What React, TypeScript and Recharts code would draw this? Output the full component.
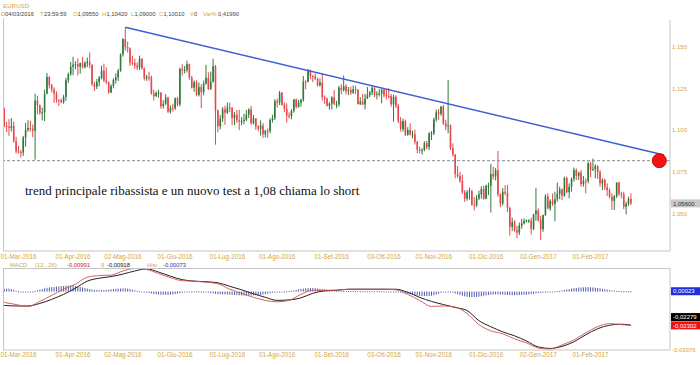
import React from "react";
import { ComposedChart, Bar, Line, XAxis, YAxis, ReferenceLine, ReferenceDot } from "recharts";

// daily EURUSD candles [open, high, low, close], one list per month
const feb16 = [
  [1.1130, 1.1135, 1.1016, 1.1025], [1.1025, 1.1050, 1.0988, 1.1019], [1.1019, 1.1065, 1.0965, 1.1013],
  [1.1013, 1.1070, 1.0991, 1.1024], [1.1024, 1.1050, 1.0925, 1.0932], [1.0932, 1.0960, 1.0859, 1.0872],
];
const mar16 = [
  [1.0872, 1.0905, 1.0859, 1.0868], [1.0868, 1.0880, 1.0835, 1.0865], [1.0865, 1.0965, 1.0845, 1.0955],
  [1.0955, 1.1042, 1.0900, 1.1001], [1.1001, 1.1059, 1.0989, 1.1012], [1.1012, 1.1056, 1.0990, 1.1008],
  [1.1008, 1.1033, 1.0957, 1.0996], [1.0996, 1.1218, 1.0822, 1.1177], [1.1177, 1.1205, 1.1094, 1.1150],
  [1.1150, 1.1152, 1.1090, 1.1104], [1.1104, 1.1135, 1.1058, 1.1107], [1.1107, 1.1242, 1.1054, 1.1218],
  [1.1218, 1.1342, 1.1215, 1.1318], [1.1318, 1.1321, 1.1249, 1.1268], [1.1268, 1.1276, 1.1225, 1.1243],
  [1.1243, 1.1255, 1.1163, 1.1219], [1.1219, 1.1232, 1.1163, 1.1181], [1.1181, 1.1184, 1.1144, 1.1178],
  [1.1178, 1.1188, 1.1160, 1.1166], [1.1166, 1.1211, 1.1157, 1.1199], [1.1199, 1.1313, 1.1176, 1.1299],
  [1.1299, 1.1344, 1.1282, 1.1335], [1.1335, 1.1409, 1.1325, 1.1379],
];
const apr16 = [
  [1.1379, 1.1439, 1.1329, 1.1391], [1.1391, 1.1412, 1.1365, 1.1394], [1.1394, 1.1430, 1.1327, 1.1380],
  [1.1380, 1.1405, 1.1338, 1.1401], [1.1401, 1.1439, 1.1368, 1.1376], [1.1376, 1.1413, 1.1370, 1.1401],
  [1.1401, 1.1434, 1.1377, 1.1409], [1.1409, 1.1465, 1.1370, 1.1390], [1.1390, 1.1395, 1.1264, 1.1275],
  [1.1275, 1.1290, 1.1234, 1.1260], [1.1260, 1.1305, 1.1245, 1.1288], [1.1288, 1.1324, 1.1262, 1.1313],
  [1.1313, 1.1386, 1.1304, 1.1355], [1.1355, 1.1398, 1.1286, 1.1296], [1.1296, 1.1375, 1.1274, 1.1286],
  [1.1286, 1.1292, 1.1217, 1.1225], [1.1225, 1.1274, 1.1222, 1.1264], [1.1264, 1.1310, 1.1250, 1.1300],
  [1.1300, 1.1340, 1.1278, 1.1315], [1.1315, 1.1367, 1.1294, 1.1355], [1.1355, 1.1459, 1.1349, 1.1453],
];
const may16 = [
  [1.1453, 1.1550, 1.1440, 1.1545], [1.1545, 1.1616, 1.1475, 1.1497], [1.1497, 1.1530, 1.1464, 1.1489],
  [1.1489, 1.1495, 1.1384, 1.1404], [1.1404, 1.1445, 1.1387, 1.1402], [1.1402, 1.1428, 1.1367, 1.1386],
  [1.1386, 1.1405, 1.1359, 1.1375], [1.1375, 1.1446, 1.1360, 1.1426], [1.1426, 1.1432, 1.1362, 1.1370],
  [1.1370, 1.1376, 1.1296, 1.1310], [1.1310, 1.1331, 1.1295, 1.1317], [1.1317, 1.1349, 1.1296, 1.1315],
  [1.1315, 1.1325, 1.1211, 1.1220], [1.1220, 1.1242, 1.1177, 1.1202], [1.1202, 1.1232, 1.1199, 1.1222],
  [1.1222, 1.1241, 1.1194, 1.1224], [1.1224, 1.1228, 1.1128, 1.1143], [1.1143, 1.1178, 1.1128, 1.1157],
  [1.1157, 1.1215, 1.1149, 1.1194], [1.1194, 1.1200, 1.1102, 1.1110], [1.1110, 1.1148, 1.1098, 1.1133],
  [1.1133, 1.1157, 1.1111, 1.1131],
];
const jun16 = [
  [1.1131, 1.1195, 1.1120, 1.1189], [1.1189, 1.1198, 1.1142, 1.1153], [1.1153, 1.1374, 1.1143, 1.1366],
  [1.1366, 1.1394, 1.1326, 1.1357], [1.1357, 1.1384, 1.1339, 1.1360], [1.1360, 1.1416, 1.1345, 1.1395],
  [1.1395, 1.1398, 1.1301, 1.1314], [1.1314, 1.1324, 1.1249, 1.1254], [1.1254, 1.1297, 1.1230, 1.1286],
  [1.1286, 1.1298, 1.1202, 1.1210], [1.1210, 1.1285, 1.1201, 1.1257], [1.1257, 1.1275, 1.1131, 1.1226],
  [1.1226, 1.1297, 1.1208, 1.1278], [1.1278, 1.1390, 1.1272, 1.1313], [1.1313, 1.1346, 1.1240, 1.1245],
  [1.1245, 1.1350, 1.1240, 1.1289], [1.1289, 1.1427, 1.1285, 1.1382], [1.1382, 1.1390, 1.0912, 1.1117],
  [1.1117, 1.1122, 1.0986, 1.1022], [1.1022, 1.1090, 1.1003, 1.1068], [1.1068, 1.1138, 1.1048, 1.1124],
  [1.1124, 1.1146, 1.1031, 1.1104],
];
const jul16 = [
  [1.1104, 1.1165, 1.1096, 1.1136], [1.1136, 1.1164, 1.1106, 1.1133], [1.1133, 1.1137, 1.1028, 1.1072],
  [1.1072, 1.1107, 1.1029, 1.1092], [1.1092, 1.1120, 1.1041, 1.1059], [1.1059, 1.1120, 1.1000, 1.1051],
  [1.1051, 1.1077, 1.1028, 1.1054], [1.1054, 1.1098, 1.1034, 1.1061], [1.1061, 1.1120, 1.1052, 1.1092],
  [1.1092, 1.1130, 1.1072, 1.1123], [1.1123, 1.1144, 1.1031, 1.1040], [1.1040, 1.1089, 1.1034, 1.1069],
  [1.1069, 1.1072, 1.1001, 1.1021], [1.1021, 1.1029, 1.0992, 1.1007], [1.1007, 1.1058, 1.0967, 1.1026],
  [1.1026, 1.1042, 1.0952, 1.0975], [1.0975, 1.1002, 1.0956, 1.0995], [1.0995, 1.1010, 1.0954, 1.0994],
  [1.0994, 1.1070, 1.0980, 1.1060], [1.1060, 1.1091, 1.1045, 1.1071], [1.1071, 1.1185, 1.1060, 1.1172],
];
const aug16 = [
  [1.1172, 1.1188, 1.1135, 1.1164], [1.1164, 1.1234, 1.1150, 1.1223], [1.1223, 1.1228, 1.1146, 1.1151],
  [1.1151, 1.1165, 1.1107, 1.1127], [1.1127, 1.1160, 1.1045, 1.1086], [1.1086, 1.1106, 1.1068, 1.1084],
  [1.1084, 1.1125, 1.1064, 1.1114], [1.1114, 1.1185, 1.1104, 1.1183], [1.1183, 1.1190, 1.1129, 1.1138],
  [1.1138, 1.1180, 1.1134, 1.1163], [1.1163, 1.1187, 1.1140, 1.1181], [1.1181, 1.1323, 1.1170, 1.1290],
  [1.1290, 1.1300, 1.1245, 1.1289], [1.1289, 1.1366, 1.1285, 1.1353], [1.1353, 1.1362, 1.1305, 1.1324],
  [1.1324, 1.1330, 1.1287, 1.1320], [1.1320, 1.1338, 1.1300, 1.1307], [1.1307, 1.1314, 1.1261, 1.1268],
  [1.1268, 1.1309, 1.1260, 1.1285], [1.1285, 1.1340, 1.1177, 1.1198], [1.1198, 1.1208, 1.1156, 1.1189],
  [1.1189, 1.1193, 1.1141, 1.1145], [1.1145, 1.1167, 1.1123, 1.1158],
];
const sep16 = [
  [1.1158, 1.1202, 1.1123, 1.1196], [1.1196, 1.1240, 1.1150, 1.1154], [1.1154, 1.1175, 1.1130, 1.1154],
  [1.1154, 1.1265, 1.1140, 1.1254], [1.1254, 1.1275, 1.1215, 1.1240], [1.1240, 1.1327, 1.1230, 1.1262],
  [1.1262, 1.1275, 1.1214, 1.1233], [1.1233, 1.1258, 1.1210, 1.1240], [1.1240, 1.1260, 1.1210, 1.1224],
  [1.1224, 1.1266, 1.1216, 1.1244], [1.1244, 1.1266, 1.1215, 1.1241], [1.1241, 1.1245, 1.1153, 1.1155],
  [1.1155, 1.1196, 1.1150, 1.1171], [1.1171, 1.1217, 1.1150, 1.1153], [1.1153, 1.1217, 1.1124, 1.1188],
  [1.1188, 1.1258, 1.1186, 1.1209], [1.1209, 1.1234, 1.1197, 1.1225], [1.1225, 1.1268, 1.1210, 1.1253],
  [1.1253, 1.1256, 1.1196, 1.1212], [1.1212, 1.1232, 1.1183, 1.1217], [1.1217, 1.1244, 1.1201, 1.1219],
  [1.1219, 1.1245, 1.1161, 1.1241],
];
const oct16 = [
  [1.1241, 1.1253, 1.1195, 1.1209], [1.1209, 1.1246, 1.1184, 1.1204], [1.1204, 1.1250, 1.1188, 1.1203],
  [1.1203, 1.1215, 1.1140, 1.1154], [1.1154, 1.1212, 1.1050, 1.1199], [1.1199, 1.1208, 1.1131, 1.1144],
  [1.1144, 1.1156, 1.1040, 1.1054], [1.1054, 1.1078, 1.0991, 1.1006], [1.1006, 1.1068, 1.0990, 1.1053],
  [1.1053, 1.1062, 1.0964, 1.0971], [1.0971, 1.1017, 1.0965, 1.1000], [1.1000, 1.1040, 1.0967, 1.0973],
  [1.0973, 1.0996, 1.0950, 1.0974], [1.0974, 1.1002, 1.0913, 1.0929], [1.0929, 1.0935, 1.0860, 1.0882],
  [1.0882, 1.0900, 1.0862, 1.0878], [1.0878, 1.0891, 1.0852, 1.0880], [1.0880, 1.0933, 1.0872, 1.0922],
  [1.0922, 1.0935, 1.0885, 1.0897], [1.0897, 1.0988, 1.0880, 1.0979], [1.0979, 1.0993, 1.0940, 1.0980],
];
const nov16 = [
  [1.0980, 1.1074, 1.0970, 1.1063], [1.1063, 1.1123, 1.1050, 1.1106], [1.1106, 1.1127, 1.1060, 1.1097],
  [1.1097, 1.1144, 1.1085, 1.1140], [1.1140, 1.1150, 1.1030, 1.1040], [1.1040, 1.1061, 1.1000, 1.1023],
  [1.1023, 1.1300, 1.0981, 1.1027], [1.1027, 1.1035, 1.0880, 1.0892], [1.0892, 1.0920, 1.0840, 1.0853],
  [1.0853, 1.0855, 1.0710, 1.0736], [1.0736, 1.0784, 1.0713, 1.0724], [1.0724, 1.0749, 1.0683, 1.0695],
  [1.0695, 1.0732, 1.0617, 1.0627], [1.0627, 1.0640, 1.0569, 1.0589], [1.0589, 1.0640, 1.0576, 1.0626],
  [1.0626, 1.0654, 1.0583, 1.0633], [1.0633, 1.0643, 1.0546, 1.0552], [1.0552, 1.0598, 1.0518, 1.0548],
  [1.0548, 1.0610, 1.0540, 1.0590], [1.0590, 1.0636, 1.0580, 1.0614], [1.0614, 1.0662, 1.0588, 1.0646],
  [1.0646, 1.0668, 1.0582, 1.0588],
];
const dec16 = [
  [1.0588, 1.0673, 1.0585, 1.0664], [1.0664, 1.0685, 1.0610, 1.0665], [1.0665, 1.0796, 1.0505, 1.0736],
  [1.0736, 1.0779, 1.0702, 1.0721], [1.0721, 1.0773, 1.0698, 1.0759], [1.0759, 1.0874, 1.0600, 1.0615],
  [1.0615, 1.0620, 1.0537, 1.0560], [1.0560, 1.0652, 1.0548, 1.0630], [1.0630, 1.0669, 1.0608, 1.0622],
  [1.0622, 1.0671, 1.0509, 1.0532], [1.0532, 1.0540, 1.0367, 1.0420], [1.0420, 1.0475, 1.0395, 1.0448],
  [1.0448, 1.0460, 1.0390, 1.0400], [1.0400, 1.0425, 1.0352, 1.0385], [1.0385, 1.0445, 1.0370, 1.0427],
  [1.0427, 1.0467, 1.0408, 1.0440], [1.0440, 1.0470, 1.0434, 1.0455], [1.0455, 1.0463, 1.0445, 1.0458],
  [1.0458, 1.0465, 1.0442, 1.0458], [1.0458, 1.0475, 1.0374, 1.0406], [1.0406, 1.0498, 1.0400, 1.0495],
  [1.0495, 1.0652, 1.0455, 1.0517],
];
const jan17 = [
  [1.0517, 1.0530, 1.0450, 1.0460], [1.0460, 1.0485, 1.0340, 1.0405], [1.0405, 1.0493, 1.0390, 1.0490],
  [1.0490, 1.0615, 1.0485, 1.0603], [1.0603, 1.0620, 1.0525, 1.0530], [1.0530, 1.0585, 1.0515, 1.0575],
  [1.0575, 1.0620, 1.0545, 1.0557], [1.0557, 1.0630, 1.0453, 1.0584], [1.0584, 1.0685, 1.0570, 1.0618],
  [1.0618, 1.0660, 1.0585, 1.0643], [1.0643, 1.0650, 1.0580, 1.0605], [1.0605, 1.0720, 1.0600, 1.0712],
  [1.0712, 1.0720, 1.0620, 1.0628], [1.0628, 1.0680, 1.0590, 1.0660], [1.0660, 1.0715, 1.0630, 1.0707],
  [1.0707, 1.0775, 1.0690, 1.0760], [1.0760, 1.0770, 1.0700, 1.0725], [1.0725, 1.0750, 1.0700, 1.0745],
  [1.0745, 1.0760, 1.0660, 1.0676], [1.0676, 1.0725, 1.0660, 1.0695], [1.0695, 1.0710, 1.0620, 1.0694],
  [1.0694, 1.0810, 1.0680, 1.0800],
];
const feb17 = [
  [1.0800, 1.0810, 1.0717, 1.0760], [1.0760, 1.0829, 1.0755, 1.0765], [1.0765, 1.0795, 1.0710, 1.0783],
  [1.0783, 1.0790, 1.0707, 1.0748], [1.0748, 1.0760, 1.0660, 1.0680], [1.0680, 1.0710, 1.0640, 1.0700],
  [1.0700, 1.0710, 1.0640, 1.0657], [1.0657, 1.0680, 1.0605, 1.0640], [1.0640, 1.0650, 1.0590, 1.0600],
  [1.0600, 1.0621, 1.0521, 1.0575], [1.0575, 1.0610, 1.0520, 1.0603], [1.0603, 1.0687, 1.0593, 1.0685],
  [1.0685, 1.0690, 1.0605, 1.0618], [1.0618, 1.0630, 1.0590, 1.0615], [1.0615, 1.0630, 1.0525, 1.0540],
  [1.0540, 1.0570, 1.0494, 1.0557], [1.0557, 1.0600, 1.0545, 1.0588], [1.0588, 1.0620, 1.0550, 1.0560],
];

// MACD (12,26) and signal (9), read weekly (every 5th bar + last bar)
const macdLine = [
  -0.0074, -0.0088, -0.0102, -0.0067, -0.0026, 0.0016, 0.0050, 0.0098, 0.0109, 0.0112,
  0.0140, 0.0157, 0.0150, 0.0123, 0.0095, 0.0074, 0.0071, 0.0064, 0.0054, 0.0016,
  -0.0012, -0.0039, -0.0060, -0.0070, -0.0060, -0.0019, 0.0009, 0.0009, 0.0009, 0.0016,
  0.0016, 0.0016, 0.0016, 0.0012, -0.0019, -0.0060, -0.0101, -0.0098, -0.0105, -0.0150,
  -0.0225, -0.0267, -0.0287, -0.0322, -0.0349, -0.0384, -0.0391, -0.0363, -0.0329, -0.0281,
  -0.0239, -0.0218, -0.0225, -0.0230,
];
const signalLine = [
  -0.0094, -0.0098, -0.0098, -0.0081, -0.0053, -0.0019, 0.0023, 0.0071, 0.0091, 0.0102,
  0.0119, 0.0140, 0.0154, 0.0133, 0.0105, 0.0081, 0.0071, 0.0067, 0.0060, 0.0036,
  0.0012, -0.0015, -0.0039, -0.0060, -0.0057, -0.0043, -0.0012, 0.0005, 0.0009, 0.0016,
  0.0016, 0.0016, 0.0016, 0.0016, -0.0005, -0.0039, -0.0067, -0.0088, -0.0108, -0.0129,
  -0.0198, -0.0239, -0.0274, -0.0301, -0.0336, -0.0377, -0.0387, -0.0373, -0.0342, -0.0294,
  -0.0253, -0.0229, -0.0222, -0.0228,
];
// histogram, one value per bar
const hist = [
  0.0018, 0.0020, 0.0020, 0.0017, 0.0012,
  0.0006, 0.0002, -0.0002, -0.0005, -0.0007, -0.0006, -0.0004, -0.0001,
  0.0004, 0.0009, 0.0013, 0.0017, 0.0022, 0.0026, 0.0028, 0.0030, 0.0031,
  0.0033, 0.0035, 0.0037, 0.0038, 0.0040, 0.0041, 0.0041, 0.0040, 0.0038, 0.0035, 0.0032, 0.0028, 0.0024, 0.0020, 0.0017,
  0.0014, 0.0012, 0.0011, 0.0010, 0.0010, 0.0011, 0.0012, 0.0013, 0.0015, 0.0017, 0.0019, 0.0020,
  0.0021, 0.0022, 0.0022, 0.0020, 0.0017, 0.0013, 0.0009,
  0.0005, 0.0002, -0.0001, -0.0004, -0.0007, -0.0010, -0.0013, -0.0016,
  -0.0018, -0.0020, -0.0021, -0.0022, -0.0022, -0.0022, -0.0021, -0.0019, -0.0017, -0.0014, -0.0011, -0.0008, -0.0005,
  -0.0002, 0.0000, 0.0001, 0.0002, 0.0002, 0.0001, 0.0000, -0.0002, -0.0004, -0.0007, -0.0010, -0.0013,
  -0.0015, -0.0017, -0.0018, -0.0019, -0.0019, -0.0020, -0.0021, -0.0022, -0.0023, -0.0024, -0.0025,
  -0.0026, -0.0027, -0.0028, -0.0028, -0.0027, -0.0026, -0.0025, -0.0024, -0.0022, -0.0020, -0.0017, -0.0014, -0.0011, -0.0008, -0.0005,
  -0.0003, -0.0001, 0.0000, 0.0001, 0.0002, 0.0004, 0.0006, 0.0009, 0.0012, 0.0015, 0.0018, 0.0020,
  0.0022, 0.0023, 0.0024, 0.0024, 0.0023, 0.0021, 0.0019, 0.0016, 0.0013, 0.0011, 0.0009,
  0.0008, 0.0007, 0.0006, 0.0006, 0.0005, 0.0005, 0.0004, 0.0004, 0.0004,
  0.0004, 0.0003, 0.0003, 0.0003, 0.0002, 0.0002, 0.0002, 0.0003, 0.0003, 0.0003, 0.0003, 0.0002, 0.0002, 0.0001, 0.0001, 0.0001, 0.0000, 0.0000, -0.0001, -0.0003,
  -0.0006, -0.0009, -0.0012, -0.0015, -0.0018, -0.0021, -0.0024, -0.0027, -0.0029, -0.0030, -0.0031, -0.0031, -0.0030, -0.0028, -0.0025, -0.0020, -0.0015, -0.0009,
  -0.0005, -0.0002, -0.0002, -0.0004,
  -0.0008, -0.0013, -0.0018, -0.0023, -0.0028, -0.0032, -0.0035, -0.0037, -0.0038, -0.0038, -0.0037, -0.0035, -0.0032, -0.0029, -0.0026,
  -0.0023, -0.0021, -0.0020, -0.0019, -0.0019, -0.0020,
  -0.0021, -0.0022, -0.0023, -0.0024, -0.0025, -0.0025, -0.0025, -0.0024, -0.0023, -0.0022, -0.0021, -0.0019, -0.0017, -0.0015, -0.0013, -0.0011, -0.0009,
  -0.0007, -0.0005, -0.0003, -0.0001, 0.0000, 0.0001, 0.0003, 0.0005,
  0.0008, 0.0011, 0.0014, 0.0017, 0.0020, 0.0023, 0.0025, 0.0027, 0.0028, 0.0029, 0.0030, 0.0030, 0.0029, 0.0028, 0.0026,
  0.0024, 0.0022, 0.0019, 0.0016, 0.0013, 0.0010,
  0.0008, 0.0006, 0.0005, 0.0004, 0.0003, 0.0002, 0.0002, 0.0002, 0.0002,
];

const tickIdx = [6, 29, 50, 72, 94, 115, 138, 160, 181, 203, 225, 247];
const tickLabels = [
  "01-Mar-2016", "01-Apr-2016", "02-Mag-2016", "01-Giu-2016", "01-Lug-2016", "01-Ago-2016",
  "01-Set-2016", "03-Ott-2016", "01-Nov-2016", "01-Dic-2016", "02-Gen-2017", "01-Feb-2017",
];
const priceTicks = [1.05, 1.075, 1.1, 1.125, 1.15];
const macdTicks = [0.01604, -0.03976];

const GOLD = "#d3a73c";
const UP = "#2f7a3b";
const DOWN = "#e5484d";
const FRAME = "#c4c4c4";
const SANS = "'Liberation Sans', Arial, sans-serif";

const candles = [...feb16, ...mar16, ...apr16, ...may16, ...jun16, ...jul16, ...aug16, ...sep16, ...oct16, ...nov16, ...dec16, ...jan17, ...feb17];
const macdIdx = [...Array.from({ length: 53 }, (_, k) => k * 5), candles.length - 1];

const rows = Array.from({ length: 281 }, (_, i) => {
  const k = candles[i];
  const m = macdIdx.indexOf(i);
  return {
    i,
    o: k ? k[0] : null,
    h: k ? k[1] : null,
    l: k ? k[2] : null,
    c: k ? k[3] : null,
    hist: i < hist.length ? hist[i] : null,
    macd: m >= 0 ? macdLine[m] : null,
    signal: m >= 0 ? signalLine[m] : null,
  };
});

function Candle(props: any) {
  const { x, y, width, height, payload } = props;
  if (!payload || payload.o == null || isNaN(y)) return null;
  const { o, h, l, c } = payload;
  const top = Math.min(y, y + height);
  const hh = Math.abs(height);
  const k = h > l ? hh / (h - l) : 0;
  const cx = x + width / 2;
  const b1 = top + (h - Math.max(o, c)) * k;
  const b2 = top + (h - Math.min(o, c)) * k;
  const col = c >= o ? UP : DOWN;
  return (
    <g>
      <line x1={cx} x2={cx} y1={top} y2={top + hh} stroke={col} strokeWidth={1} />
      <rect x={cx - 0.8} y={b1} width={1.6} height={Math.max(1, b2 - b1)} fill={col} />
    </g>
  );
}

function HistBar(props: any) {
  const { x, y, width, height } = props;
  if (x == null || y == null || isNaN(y)) return null;
  const top = Math.min(y, y + height);
  return <rect x={x + width / 2 - 0.5} y={top} width={1} height={Math.max(1, Math.abs(height))} fill="#5259aa" />;
}

const dateTick = (dy: number) => (p: any) => (
  <text x={p.x} y={p.y + dy} textAnchor="middle" fontSize={6.3} fill={GOLD} fontFamily={SANS}>
    {tickLabels[tickIdx.indexOf(p.payload.value)]}
  </text>
);

const valueTick = (digits: number) => (p: any) => (
  <text x={p.x + 2} y={p.y + 2.2} fontSize={6} fill={GOLD} fontFamily={SANS}>
    {p.payload.value.toFixed(digits).replace(".", ",")}
  </text>
);

const valueBox = (text: string, bg: string, fg: string, dy = 0) => (p: any) => {
  const vb = p.viewBox || {};
  const x = (vb.x || 0) + (vb.width || 0) + 1;
  const y = (vb.y || 0) + dy;
  return (
    <g>
      <rect x={x} y={y - 4} width={29} height={8} fill={bg} />
      <text x={x + 2} y={y + 2.2} fontSize={6} fill={fg} fontFamily={SANS}>{text}</text>
    </g>
  );
};

export default function App() {
  return (
    <div style={{ position: "absolute", left: 0, top: 0, width: 700, height: 365, background: "#fff", overflow: "hidden" }}>
      <div style={{ position: "absolute", left: 0, top: 0 }}>
        <ComposedChart width={700} height={265} data={rows} margin={{ top: 20, right: 0, bottom: 0, left: 3 }}>
          <XAxis dataKey="i" ticks={tickIdx} interval={0} tickLine={false} tickSize={0} tickMargin={0}
            axisLine={{ stroke: FRAME }} height={14} tick={dateTick(8)} />
          <YAxis orientation="right" width={30} domain={[1.02746, 1.16595]} allowDataOverflow ticks={priceTicks}
            tickLine={false} tickSize={0} tickMargin={0} axisLine={{ stroke: FRAME }} tick={valueTick(3)} />
          <ReferenceLine y={1.0816} stroke="#8a8a8a" strokeDasharray="3 2" />
          <Bar dataKey={(d: any) => (d.o == null ? null : [d.l, d.h])} shape={<Candle />} isAnimationActive={false} />
          <ReferenceLine segment={[{ x: 51, y: 1.1616 }, { x: 278, y: 1.085 }]} stroke="#3d5fd0" strokeWidth={1.5} />
          <ReferenceDot x={276} y={1.0816} r={7} fill="#f01414" stroke="#e00000" />
          <ReferenceLine y={1.056} stroke="none" label={valueBox("1,05600", "#c8c8c8", "#333")} />
        </ComposedChart>
      </div>
      <div style={{ position: "absolute", left: 0, top: 262 }}>
        <ComposedChart width={700} height={103} data={rows} margin={{ top: 6, right: 0, bottom: 0, left: 3 }}>
          <XAxis dataKey="i" ticks={tickIdx} interval={0} tickLine={false} tickSize={0} tickMargin={0}
            axisLine={{ stroke: FRAME }} height={15} tick={dateTick(6.8)} />
          <YAxis orientation="right" width={30} domain={[-0.03976, 0.01604]} allowDataOverflow ticks={macdTicks}
            tickLine={false} tickSize={0} tickMargin={0} axisLine={{ stroke: FRAME }} tick={valueTick(5)} />
          <Bar dataKey="hist" shape={<HistBar />} isAnimationActive={false} />
          <Line dataKey="signal" type="monotone" stroke="#222" strokeWidth={1} dot={false} connectNulls isAnimationActive={false} />
          <Line dataKey="macd" type="monotone" stroke="#cf5050" strokeWidth={0.9} dot={false} connectNulls isAnimationActive={false} />
          <ReferenceLine y={0.00023} stroke="none" label={valueBox("0,00023", "#1f2fe0", "#fff")} />
          <ReferenceLine y={-0.02279} stroke="none" label={valueBox("-0,02279", "#000", "#fff", -8)} />
          <ReferenceLine y={-0.02302} stroke="none" label={valueBox("-0,02302", "#ee1111", "#fff")} />
        </ComposedChart>
      </div>
      <svg width={700} height={365} style={{ position: "absolute", left: 0, top: 0, pointerEvents: "none" }}>
        <line x1={3.5} x2={3.5} y1={18} y2={251} stroke={FRAME} />
        <line x1={3.5} x2={3.5} y1={268} y2={350} stroke={FRAME} />
        <line x1={3} x2={670} y1={268.5} y2={268.5} stroke={FRAME} />
        <g fontFamily={SANS} fontSize={5.8}>
          <text x={3} y={7.5} fill={GOLD} fontSize={6.2}>EURUSD</text>
          <text y={15.5}>
            <tspan x={1} fill={GOLD}>D</tspan><tspan x={5} fill="#444">04/03/2016</tspan>
            <tspan x={40} fill={GOLD}>T</tspan><tspan x={44} fill="#444">23:59:59</tspan>
            <tspan x={73} fill={GOLD}>O</tspan><tspan x={77.5} fill="#444">1,09550</tspan>
            <tspan x={102} fill={GOLD}>H</tspan><tspan x={106.5} fill="#444">1,10420</tspan>
            <tspan x={131} fill={GOLD}>L</tspan><tspan x={134.5} fill="#444">1,09000</tspan>
            <tspan x={159} fill={GOLD}>C</tspan><tspan x={163.5} fill="#444">1,10010</tspan>
            <tspan x={190} fill={GOLD}>V</tspan><tspan x={194} fill="#444">0</tspan>
            <tspan x={203} fill={GOLD}>Var%</tspan><tspan x={218} fill="#444">0,41990</tspan>
          </text>
          <text y={266.5}>
            <tspan x={10} fill={GOLD}>MACD</tspan>
            <tspan x={35} fill={GOLD}>(12 , 26):</tspan>
            <tspan x={67} fill="#d02020">-0,00991</tspan>
            <tspan x={101} fill={GOLD}>9</tspan>
            <tspan x={107} fill="#111">-0,00918</tspan>
            <tspan x={147} fill={GOLD}>Hist</tspan>
            <tspan x={163} fill="#2a2ac0">-0,00073</tspan>
          </text>
        </g>
        <text x={25} y={195} fontFamily="'Liberation Serif', 'Times New Roman', serif" fontSize={13} fill="#111">
          trend principale ribassista e un nuovo test a 1,08 chiama lo short
        </text>
      </svg>
    </div>
  );
}
